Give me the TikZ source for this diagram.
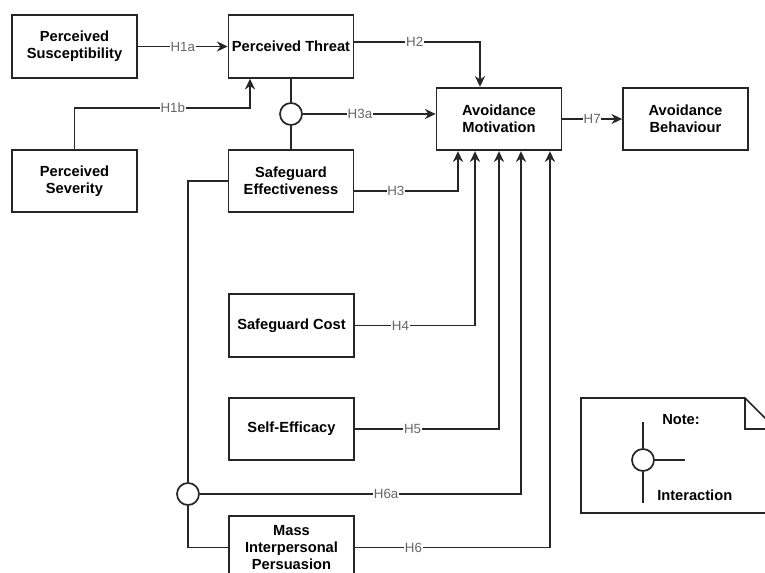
\documentclass[tikz,border=0pt]{standalone}
\usepackage{fontspec}
\setmainfont{Liberation Sans}
\usetikzlibrary{positioning, arrows.meta}

\begin{document}
\begin{tikzpicture}[x=0.75pt, y=-0.75pt]
    % Define styles
    \tikzstyle{box} = [draw=black!85, line width=1.3pt, minimum width=93.75pt, minimum height=47pt, align=center, inner sep=1pt, font=\fontsize{11}{12.5}\selectfont\bfseries]
    \tikzstyle{link} = [draw=black!85, line width=1.3pt]
    \tikzstyle{arrow} = [link, -{Stealth[length=8pt, width=7.5pt, inset=2.5pt]}]
    \tikzstyle{hyp} = [fill=white, text=black!60, inner sep=0.5pt, font=\fontsize{10}{12}\selectfont]
    \tikzstyle{inter} = [circle, draw=black!85, line width=1.3pt, fill=white, minimum size=16.5pt, inner sep=0pt]
    \tikzstyle{notetext} = [anchor=west, inner sep=0pt, font=\fontsize{11}{12.5}\selectfont\bfseries]

    \clip (0,0) rectangle (765,572);

    % Draw constructs
    \node[box] (sus) at (74.5,46.5) {Perceived\\Susceptibility};
    \node[box] (thr) at (291,46.5) {Perceived Threat};
    \node[box] (sev) at (74.5,181) {Perceived\\Severity};
    \node[box] (eff) at (291,181) {Safeguard\\Effectiveness};
    \node[box] (mot) at (499,119) {Avoidance\\Motivation};
    \node[box] (beh) at (685.5,119) {Avoidance\\Behaviour};
    \node[box] (cost) at (291.5,325.5) {Safeguard Cost};
    \node[box] (self) at (291.5,429) {Self-Efficacy};
    \node[box] (mass) at (291.5,547.5) {Mass\\Interpersonal\\Persuasion};

    % Interaction points
    \node[inter] (int1) at (291,114) {};
    \node[inter] (int2) at (188,494) {};
    \coordinate (h1b) at (250,108);

    % Draw hypotheses
    \draw[arrow] (sus.east) -- node[hyp] {H1a} (thr.west);
    \draw[arrow] (sev.north) |- node[hyp, pos=0.78] {H1b} (h1b) -- (h1b |- thr.south);
    \draw[link] (thr.south) -- (int1.north);
    \draw[link] (int1.south) -- (eff.north);
    \draw[arrow] (int1.east) -- node[hyp, pos=0.43] {H3a} (int1.east -| mot.west);
    \draw[arrow] ([yshift=3.4pt]thr.east) -| node[hyp, pos=0.24] {H2} ([xshift=-14.25pt]mot.north);
    \draw[arrow] ([yshift=-7.5pt]eff.east) -| node[hyp, pos=0.2] {H3} ([xshift=-30.75pt]mot.south);
    \draw[arrow] (cost.east) -| node[hyp, pos=0.19] {H4} ([xshift=-18pt]mot.south);
    \draw[arrow] (self.east) -| node[hyp, pos=0.2] {H5} (mot.south);
    \draw[link] (eff.west) -| (int2.north);
    \draw[link] (int2.south) |- (mass.west);
    \draw[arrow] (int2.east) -| node[hyp, pos=0.29] {H6a} ([xshift=16.5pt]mot.south);
    \draw[arrow] (mass.east) -| node[hyp, pos=0.15] {H6} ([xshift=38.25pt]mot.south);
    \draw[arrow] (mot.east) -- node[hyp] {H7} (beh.west);

    % Note
    \draw[link] (581,398) -- (745,398) -- (776,429) -- (776,513) -- (581,513) -- cycle;
    \draw[link] (745,398) -- (745,429) -- (776,429);
    \node[notetext] (notetitle) at (662,420) {Note:};
    \node[inter] (int3) at (643,460) {};
    \coordinate (n1) at (643,422);
    \coordinate (n2) at (643,503);
    \coordinate (n3) at (685,460);
    \draw[link] (n1) -- (int3.north);
    \draw[link] (int3.south) -- (n2);
    \draw[link] (int3.east) -- (n3);
    \node[notetext] (notelabel) at (657,495) {Interaction};
\end{tikzpicture}
\end{document}
